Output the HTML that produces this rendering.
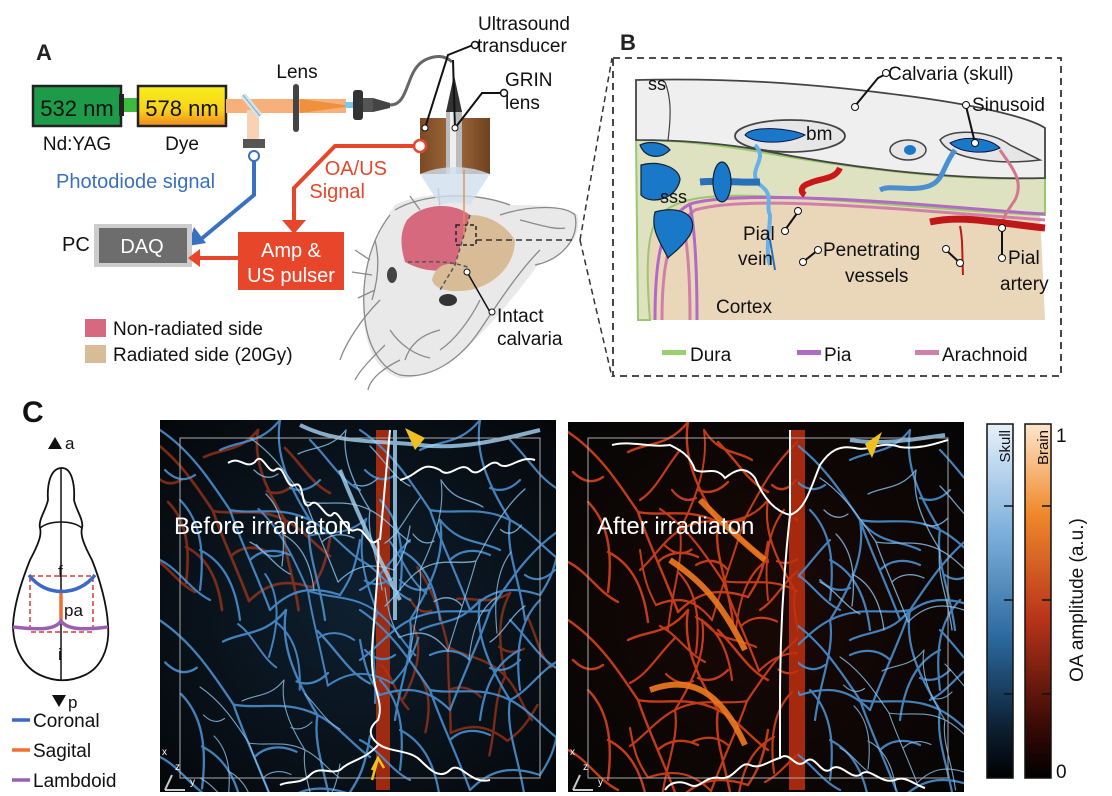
<!DOCTYPE html>
<html><head><meta charset="utf-8"><style>
html,body{margin:0;padding:0;background:#fff;}
svg{display:block;font-family:"Liberation Sans",Arial,sans-serif;}
</style></head><body>
<svg width="1112" height="796" viewBox="0 0 1112 796" xmlns="http://www.w3.org/2000/svg">
<defs>
<linearGradient id="dye" x1="0" y1="0" x2="0" y2="1"><stop offset="0" stop-color="#f7ef1a"/><stop offset="0.6" stop-color="#f8d21a"/><stop offset="1" stop-color="#f08a20"/></linearGradient>
<linearGradient id="brown" x1="0" y1="0" x2="1" y2="0"><stop offset="0" stop-color="#7a4a24"/><stop offset="0.5" stop-color="#a06a3c"/><stop offset="1" stop-color="#6e4120"/></linearGradient>
<linearGradient id="skull" x1="0" y1="0" x2="0" y2="1"><stop offset="0" stop-color="#e6f0fa"/><stop offset="0.3" stop-color="#7fb1dc"/><stop offset="0.6" stop-color="#2d6aa0"/><stop offset="0.85" stop-color="#0d2236"/><stop offset="1" stop-color="#000"/></linearGradient>
<linearGradient id="brain" x1="0" y1="0" x2="0" y2="1"><stop offset="0" stop-color="#fde6cc"/><stop offset="0.25" stop-color="#f08a2c"/><stop offset="0.55" stop-color="#b8341a"/><stop offset="0.85" stop-color="#3a0a06"/><stop offset="1" stop-color="#000"/></linearGradient>
<radialGradient id="dark1" cx="0.5" cy="0.5" r="0.7"><stop offset="0" stop-color="#0e2030"/><stop offset="1" stop-color="#05070a"/></radialGradient>
<radialGradient id="dark2" cx="0.5" cy="0.5" r="0.7"><stop offset="0" stop-color="#1a0805"/><stop offset="1" stop-color="#050505"/></radialGradient>
<clipPath id="c1"><rect x="160" y="420" width="396" height="372"/></clipPath>
<clipPath id="c2"><rect x="568" y="422" width="396" height="370"/></clipPath>
<clipPath id="c2l"><rect x="568" y="422" width="230" height="370"/></clipPath>
<clipPath id="c2r"><rect x="798" y="422" width="166" height="370"/></clipPath>
<g id="net" fill="none" stroke-linecap="round">
<path d="M0,10 C30,30 50,60 70,90 C80,120 95,150 110,190"/>
<path d="M70,90 C95,95 120,85 150,100 C170,110 185,130 200,140"/>
<path d="M20,80 C40,100 45,130 40,170 M40,130 C60,140 75,160 80,200"/>
<path d="M120,0 C115,30 125,60 150,100 M150,20 C170,40 180,60 200,70"/>
<path d="M0,140 C20,150 30,170 50,180 M110,190 C130,170 150,165 180,175"/>
<path d="M60,30 C80,20 100,25 120,0 M150,100 C145,130 160,160 165,200"/>
<path d="M90,140 C100,130 115,128 130,135 M180,175 C190,160 195,150 200,120"/>
<path d="M5,50 C15,60 25,62 35,55 M160,60 C150,70 140,72 130,68"/>
</g>
</defs>

<!-- ============ PANEL A ============ -->
<text x="36" y="60" font-size="22" font-weight="bold" fill="#222">A</text>
<rect x="33" y="86" width="88" height="40" fill="#1e9b48" stroke="#222" stroke-width="2.5"/>
<text x="77" y="116" font-size="22" text-anchor="middle" fill="#111">532 nm</text>
<rect x="121" y="98" width="17" height="14" fill="#3dbb3f"/>
<rect x="119" y="94" width="5" height="22" fill="#222"/>
<rect x="138" y="86" width="88" height="40" fill="url(#dye)" stroke="#222" stroke-width="2.5"/>
<text x="182" y="116" font-size="22" text-anchor="middle" fill="#111">578 nm</text>
<text x="77" y="150" font-size="19" text-anchor="middle" fill="#111">Nd:YAG</text>
<text x="182" y="150" font-size="19" text-anchor="middle" fill="#111">Dye</text>
<rect x="226" y="99" width="120" height="14" fill="#f7b07a"/>
<rect x="247" y="110" width="12" height="30" fill="#f9d2b4"/>
<polygon points="300,99 345,105 345,107 300,113" fill="#f0903a"/>
<line x1="243" y1="95" x2="260" y2="116" stroke="#cfe4f0" stroke-width="6"/>
<line x1="243" y1="95" x2="260" y2="116" stroke="#8aa" stroke-width="1"/>
<rect x="243" y="139" width="22" height="9" fill="#555"/>
<circle cx="254" cy="156" r="5" fill="#fff" stroke="#3a70c0" stroke-width="2"/>
<text x="297" y="78" font-size="19" text-anchor="middle" fill="#111">Lens</text>
<rect x="293" y="84" width="6" height="48" rx="3" fill="#444"/>
<rect x="345" y="102" width="8" height="6" fill="#7cc8e8"/>
<rect x="353" y="90" width="10" height="30" rx="3" fill="#333"/>
<rect x="363" y="98" width="10" height="14" fill="#555"/>
<polygon points="373,98 390,103 390,108 373,112" fill="#444"/>
<path d="M390,105 C410,105 405,70 425,60 C435,55 445,55 452,62" stroke="#666" stroke-width="3" fill="none"/>
<text x="478" y="30" font-size="19" fill="#111">Ultrasound</text>
<text x="477" y="52" font-size="19" fill="#111">transducer</text>
<text x="505" y="86" font-size="19" fill="#111">GRIN</text>
<text x="505" y="109" font-size="19" fill="#111">lens</text>
<!-- mouse (behind transducer) -->
<path d="M395,205 C420,192 470,190 510,205 C530,205 565,205 578,215 C582,240 560,260 540,262 C520,290 495,320 470,345 C450,365 420,380 400,378 C378,372 366,350 364,320 C360,280 370,240 395,205 Z" fill="#e9e9e9"/>
<g stroke="#8a8a8a" fill="none" stroke-width="1.3">
<path d="M390,215 C370,240 360,280 365,320 C368,345 380,368 400,375 C430,380 460,360 480,330 C500,300 520,270 540,250"/>
<path d="M500,215 C530,205 565,205 575,215 C580,240 560,260 535,265"/>
<path d="M395,210 C420,195 470,190 510,205"/>
<path d="M380,300 C360,320 345,345 340,360 M385,345 C370,360 360,370 355,380 M400,360 C380,370 370,380 368,390"/>
<path d="M440,330 C420,335 410,345 405,360 M375,240 C380,260 378,280 372,300 M480,300 C470,320 455,340 440,350 M520,220 C540,225 555,230 565,228 M390,330 C400,345 415,355 430,358"/>
<path d="M370,260 L355,250 M372,275 L352,272 M375,290 L358,298 M420,210 L410,196 M440,205 L438,188"/>
</g>
<ellipse cx="448" cy="300" rx="9" ry="6" fill="#333"/>
<ellipse cx="392" cy="275" rx="5" ry="8" fill="#444"/>
<path d="M407,220 C420,205 450,200 470,215 L455,265 C440,275 420,270 405,262 C400,245 400,232 407,220 Z" fill="#d7697f"/>
<path d="M470,215 C490,215 505,225 515,240 C515,265 495,285 470,290 C450,293 435,290 432,280 C435,265 448,262 455,265 Z" fill="#d8bc98"/>
<path d="M408,262 C430,262 450,260 470,268" stroke="#555" stroke-width="1.5" stroke-dasharray="4,3" fill="none"/>
<path d="M470,215 L455,265 L440,290" stroke="#555" stroke-width="1.5" stroke-dasharray="4,3" fill="none"/>
<rect x="456" y="225" width="20" height="20" stroke="#222" stroke-width="1.5" stroke-dasharray="4,3" fill="none"/>
<line x1="476" y1="240" x2="575" y2="240" stroke="#333" stroke-width="1.5" stroke-dasharray="6,4"/>
<!-- transducer -->
<rect x="420" y="118" width="70" height="56" fill="url(#brown)"/>
<rect x="446" y="110" width="16" height="64" fill="#bbb"/>
<rect x="450" y="110" width="6" height="64" fill="#eee"/>
<polygon points="446,112 454,75 462,112" fill="#333"/>
<path d="M420,174 Q455,160 490,174 L470,205 Q455,200 440,205 Z" fill="#cfe0ee" opacity="0.8"/>
<line x1="464" y1="170" x2="464" y2="235" stroke="#e09050" stroke-width="2" opacity="0.7"/>
<polyline points="425,128 448,55 473,45" stroke="#111" stroke-width="2" fill="none"/>
<polyline points="455,128 453,60" stroke="#111" stroke-width="2" fill="none"/>
<polyline points="455,128 482,93 504,93" stroke="#111" stroke-width="2" fill="none"/>
<circle cx="475" cy="45" r="3.5" fill="#fff" stroke="#111" stroke-width="1.5"/>
<circle cx="504" cy="93" r="3.5" fill="#fff" stroke="#111" stroke-width="1.5"/>
<circle cx="425" cy="128" r="3" fill="#fff" stroke="#111"/>
<circle cx="455" cy="128" r="3" fill="#fff" stroke="#111"/>
<polyline points="420,146 335,146 294,188 294,222" stroke="#e8462a" stroke-width="4" fill="none"/>
<polygon points="282,220 306,220 294,234" fill="#e8462a"/>
<circle cx="420" cy="146" r="6" fill="#fff" stroke="#e8462a" stroke-width="2.5"/>
<text x="387" y="175" font-size="20" text-anchor="end" fill="#e8462a">OA/US</text>
<text x="365" y="198" font-size="20" text-anchor="end" fill="#e8462a">Signal</text>
<text x="56" y="188" font-size="20" fill="#3a70c0">Photodiode signal</text>
<polyline points="254,161 254,195 200,240" stroke="#3a70c0" stroke-width="4" fill="none"/>
<polygon points="188,246 194,227 206,243" fill="#3a70c0"/>
<text x="62" y="251" font-size="20" fill="#111">PC</text>
<rect x="94" y="224" width="98" height="43" fill="#ccc"/>
<rect x="99" y="228" width="88" height="35" fill="#6d6d6d"/>
<text x="142" y="253" font-size="20" text-anchor="middle" fill="#fff">DAQ</text>
<rect x="238" y="232" width="106" height="58" fill="#e8462a"/>
<text x="291" y="257" font-size="20" text-anchor="middle" fill="#fff">Amp &amp;</text>
<text x="291" y="282" font-size="20" text-anchor="middle" fill="#fff">US pulser</text>
<line x1="238" y1="258" x2="200" y2="258" stroke="#e8462a" stroke-width="4"/>
<polygon points="188,258 200,249 200,267" fill="#e8462a"/>
<rect x="85" y="319" width="21" height="18" fill="#d7697f"/>
<rect x="85" y="345" width="21" height="18" fill="#d8bc98"/>
<text x="113" y="335" font-size="19" fill="#111">Non-radiated side</text>
<text x="113" y="361" font-size="19" fill="#111">Radiated side (20Gy)</text>
<polyline points="467,272 490,312 492,312" stroke="#111" stroke-width="1.5" fill="none"/>
<circle cx="467" cy="272" r="3" fill="#fff" stroke="#111"/>
<circle cx="492" cy="312" r="3" fill="#fff" stroke="#111"/>
<text x="497" y="322" font-size="19" fill="#111">Intact</text>
<text x="497" y="345" font-size="19" fill="#111">calvaria</text>
<path d="M580,240 L612,58" stroke="#333" stroke-width="1.5" stroke-dasharray="6,4"/>
<path d="M580,240 L612,377" stroke="#333" stroke-width="1.5" stroke-dasharray="6,4"/>

<!-- ============ PANEL B ============ -->
<text x="620" y="50" font-size="22" font-weight="bold" fill="#222">B</text>
<rect x="613" y="58" width="448" height="318" fill="none" stroke="#333" stroke-width="1.8" stroke-dasharray="7,5"/>
<path d="M638,250 C640,210 660,195 700,192 C780,188 900,202 1040,212 L1045,320 L640,320 Z" fill="#ead7ba"/>
<path d="M636,140 C680,140 720,145 760,152 C850,168 960,182 1045,178 L1045,215 C960,212 860,200 760,196 C700,194 675,200 660,215 C648,228 645,260 650,320 L638,320 L636,140 Z" fill="#dfe2c0" stroke="#9ac870" stroke-width="2"/>
<path d="M655,320 C655,260 660,220 690,204 C720,195 800,196 900,203 C970,208 1020,213 1045,214" stroke="#b06bc4" stroke-width="3" fill="none"/>
<path d="M662,320 C662,265 668,230 695,210 C730,200 800,202 900,209 C970,214 1020,218 1045,220" stroke="#d080a8" stroke-width="3" fill="none"/>
<path d="M697,320 C697,260 694,225 690,205" stroke="#b06bc4" stroke-width="3" fill="none"/>
<path d="M690,320 C690,265 686,230 680,210" stroke="#d080a8" stroke-width="3" fill="none"/>
<path d="M636,80 C720,78 800,82 900,95 C980,105 1030,118 1045,128 L1045,178 C960,180 860,170 760,150 C720,143 680,140 636,140 Z" fill="#efefef" stroke="#444" stroke-width="1.8"/>
<path d="M665,82 C670,95 672,110 668,140" stroke="#444" stroke-width="1.2" fill="none"/>
<ellipse cx="790" cy="136" rx="55" ry="16" fill="#e6e6e6" stroke="#444" stroke-width="1.8"/>
<ellipse cx="908" cy="150" rx="18" ry="10" fill="#e6e6e6" stroke="#444" stroke-width="1.5"/>
<path d="M940,140 C950,128 990,130 1010,145 L1040,160 C1000,165 950,160 940,140 Z" fill="#e6e6e6" stroke="#444" stroke-width="1.5"/>
<path d="M745,135 C752,125 790,128 805,135 C790,144 755,145 745,135 Z" fill="#1a78c8" stroke="#114" stroke-width="1"/>
<ellipse cx="910" cy="150" rx="6" ry="5" fill="#1a78c8"/>
<path d="M950,143 C965,135 990,138 1000,148 C985,155 960,153 950,143 Z" fill="#1a78c8" stroke="#114" stroke-width="1"/>
<path d="M755,145 C770,160 745,170 760,185 C775,195 765,205 770,215 C770,230 765,250 770,265" stroke="#6ab0e8" stroke-width="4" fill="none"/>
<path d="M955,150 C940,170 945,185 920,188 C900,190 890,185 880,190" stroke="#4a90d0" stroke-width="5" fill="none"/>
<path d="M700,182 C720,180 740,183 760,182" stroke="#2a70b8" stroke-width="7" fill="none"/>
<path d="M641,165 C660,160 680,168 680,180 C676,200 650,205 641,195 Z" fill="#1a78c8" stroke="#123" stroke-width="1.2"/>
<path d="M655,212 C680,205 700,215 690,235 C680,250 670,255 668,258 C662,245 650,230 655,212 Z" fill="#1a78c8" stroke="#123" stroke-width="1.2"/>
<path d="M640,145 C650,140 665,143 670,150 C660,160 645,158 640,145 Z" fill="#1a78c8" stroke="#123" stroke-width="1.2"/>
<ellipse cx="722" cy="182" rx="9" ry="20" fill="#1a78c8" stroke="#123" stroke-width="1.2"/>
<path d="M840,168 C835,180 820,178 810,183 C800,186 800,192 805,195" stroke="#c81818" stroke-width="6" fill="none"/>
<path d="M1000,150 C1010,165 1025,180 1015,200 C1005,215 1000,220 1005,230" stroke="#d07890" stroke-width="3" fill="none"/>
<path d="M930,222 C960,215 990,222 1045,228" stroke="#c01818" stroke-width="7" fill="none"/>
<path d="M960,226 C963,240 962,255 963,275" stroke="#c01818" stroke-width="2" fill="none"/>
<path d="M770,240 L775,270" stroke="#2a70b8" stroke-width="2" fill="none"/>
<text x="888" y="80" font-size="19" fill="#111">Calvaria (skull)</text>
<polyline points="855,106 878,78 886,74" stroke="#111" stroke-width="2" fill="none"/>
<circle cx="886" cy="73" r="3.5" fill="#fff" stroke="#111"/>
<circle cx="855" cy="107" r="3.5" fill="#fff" stroke="#111"/>
<text x="972" y="111" font-size="19" fill="#111">Sinusoid</text>
<line x1="966" y1="106" x2="975" y2="143" stroke="#111" stroke-width="2"/>
<circle cx="966" cy="105" r="3.5" fill="#fff" stroke="#111"/>
<circle cx="975" cy="143" r="3.5" fill="#fff" stroke="#111"/>
<text x="648" y="90" font-size="18" fill="#111">ss</text>
<text x="806" y="140" font-size="19" fill="#111">bm</text>
<text x="660" y="203" font-size="18" fill="#111">sss</text>
<text x="743" y="240" font-size="19" fill="#111">Pial</text>
<text x="738" y="265" font-size="19" fill="#111">vein</text>
<line x1="785" y1="230" x2="798" y2="212" stroke="#111" stroke-width="2"/>
<circle cx="785" cy="231" r="3.5" fill="#fff" stroke="#111"/>
<circle cx="798" cy="211" r="3.5" fill="#fff" stroke="#111"/>
<text x="823" y="256" font-size="19" fill="#111">Penetrating</text>
<text x="845" y="282" font-size="19" fill="#111">vessels</text>
<line x1="803" y1="262" x2="818" y2="250" stroke="#111" stroke-width="2"/>
<circle cx="803" cy="262" r="3.5" fill="#fff" stroke="#111"/>
<circle cx="818" cy="250" r="3.5" fill="#fff" stroke="#111"/>
<line x1="946" y1="250" x2="960" y2="263" stroke="#111" stroke-width="2"/>
<circle cx="946" cy="249" r="3.5" fill="#fff" stroke="#111"/>
<circle cx="960" cy="263" r="3.5" fill="#fff" stroke="#111"/>
<text x="1008" y="264" font-size="19" fill="#111">Pial</text>
<text x="1000" y="290" font-size="19" fill="#111">artery</text>
<line x1="1002" y1="229" x2="1002" y2="257" stroke="#111" stroke-width="2"/>
<circle cx="1002" cy="228" r="3.5" fill="#fff" stroke="#111"/>
<circle cx="1002" cy="258" r="3.5" fill="#fff" stroke="#111"/>
<text x="716" y="313" font-size="19" fill="#111">Cortex</text>
<rect x="662" y="350" width="24" height="5" fill="#9ad070"/>
<text x="690" y="361" font-size="19" fill="#111">Dura</text>
<rect x="797" y="350" width="24" height="5" fill="#b06bc4"/>
<text x="824" y="361" font-size="19" fill="#111">Pia</text>
<rect x="915" y="350" width="24" height="5" fill="#d080a8"/>
<text x="942" y="361" font-size="19" fill="#111">Arachnoid</text>

<!-- ============ PANEL C ============ -->
<text x="22" y="422" font-size="30" font-weight="bold" fill="#111">C</text>
<polygon points="48,449 55,437 62,449" fill="#111"/>
<text x="65" y="449" font-size="17" fill="#111">a</text>
<path d="M62,468 C50,468 47,485 48,500 C46,510 38,520 40,528 C42,535 38,545 30,560 C22,580 14,605 13,625 C13,650 25,668 40,675 C55,682 70,682 85,675 C100,668 110,650 108,625 C107,605 100,580 92,560 C84,545 80,535 82,528 C84,520 76,510 74,500 C75,485 72,468 62,468 Z" fill="#fff" stroke="#111" stroke-width="1.8"/>
<line x1="61" y1="468" x2="61" y2="680" stroke="#111" stroke-width="1.5"/>
<path d="M40,528 C50,520 72,520 82,528" stroke="#111" stroke-width="1.5" fill="none"/>
<text x="58" y="577" font-size="17" fill="#111">f</text>
<rect x="30" y="576" width="63" height="56" fill="none" stroke="#d83a3a" stroke-width="1.5" stroke-dasharray="5,3"/>
<path d="M29,575 C45,597 78,597 95,575" stroke="#3a6ac8" stroke-width="3.5" fill="none"/>
<line x1="61" y1="593" x2="61" y2="623" stroke="#f07030" stroke-width="3.5"/>
<path d="M13,627 C40,630 55,630 61,621 C67,630 85,630 108,627" stroke="#9a60b0" stroke-width="3.5" fill="none"/>
<text x="64" y="616" font-size="17" fill="#111">pa</text>
<text x="58" y="660" font-size="17" fill="#111">i</text>
<polygon points="52,695 59,707 66,695" fill="#111"/>
<text x="68" y="708" font-size="17" fill="#111">p</text>
<line x1="12" y1="720" x2="30" y2="720" stroke="#3a6ac8" stroke-width="3.5"/>
<text x="33" y="727" font-size="19" fill="#111">Coronal</text>
<line x1="12" y1="750" x2="30" y2="750" stroke="#f07030" stroke-width="3.5"/>
<text x="33" y="757" font-size="19" fill="#111">Sagital</text>
<line x1="12" y1="780" x2="30" y2="780" stroke="#9a60b0" stroke-width="3.5"/>
<text x="33" y="787" font-size="19" fill="#111">Lambdoid</text>

<!-- Before image -->
<rect x="160" y="420" width="396" height="372" fill="url(#dark1)"/>
<g clip-path="url(#c1)">
<g stroke="#c8401a" stroke-width="3" opacity="0.6">
<use href="#net" transform="translate(150,430) scale(0.9)"/>
<use href="#net" transform="translate(420,560) scale(0.8) rotate(20)"/>
</g>
<path d="M383,430 L383,790" stroke="#b83010" stroke-width="14" opacity="0.85"/>
<g stroke="#4a8fcf" stroke-width="2.2" opacity="0.9">
<use href="#net" transform="translate(160,420)"/>
<use href="#net" transform="translate(360,420) scale(1,1)"/>
<use href="#net" transform="translate(160,610) scale(1.05)"/>
<use href="#net" transform="translate(360,600)"/>
<use href="#net" transform="translate(260,500) rotate(10) scale(0.9)"/>
<use href="#net" transform="translate(560,520) scale(-1,1)"/>
</g>
<g stroke="#8cc4ee" stroke-width="1.6" opacity="0.8">
<use href="#net" transform="translate(250,430) scale(0.8)"/>
<use href="#net" transform="translate(420,480) scale(-0.7,0.9) translate(-150,0)"/>
<use href="#net" transform="translate(200,680) scale(0.7)"/>
</g>
<g stroke="#a8d6f6" stroke-width="4" opacity="0.8" fill="none">
<path d="M300,425 C340,445 380,440 420,445 C460,450 500,440 540,430"/>
<path d="M395,430 L395,620"/>
<path d="M340,470 C360,520 380,560 400,600"/>
</g>
</g>
<rect x="180" y="438" width="360" height="340" fill="none" stroke="#aaa" stroke-width="1"/>
<path d="M228,463 C240,455 245,470 255,462 C262,450 268,475 275,470 C285,462 285,490 295,485 C305,480 300,510 310,505 C318,495 325,520 332,515 C338,505 345,535 355,530 C365,525 368,550 378,540 C380,560 375,600 372,650 C370,690 385,700 378,720 C365,730 372,740 380,745 C390,752 410,750 420,760 C430,770 440,780 450,770 C460,760 470,785 490,780 M378,745 C365,760 350,760 340,770 C330,775 320,765 310,775 C300,785 290,780 280,785 M390,430 L380,540 M400,480 C420,475 420,460 440,470 C450,480 460,460 470,470 C480,480 490,455 500,465 C510,470 520,455 535,460" stroke="#fff" stroke-width="2" fill="none"/>
<polygon points="405,428 425,438 415,450" fill="#f0c020"/>
<path d="M372,770 L378,758 L384,768 M378,758 L372,780" stroke="#f0c020" stroke-width="2.5" fill="none"/>
<text x="174" y="534" font-size="24" fill="#fff">Before irradiaton</text>
<text x="162" y="755" font-size="10" fill="#fff">x</text><text x="175" y="770" font-size="10" fill="#fff">z</text><text x="190" y="785" font-size="10" fill="#fff">y</text>
<path d="M165,790 L172,775 M165,790 L185,790" stroke="#ccc" stroke-width="2"/>

<!-- After image -->
<rect x="568" y="422" width="396" height="370" fill="url(#dark2)"/>
<g clip-path="url(#c2l)">
<g stroke="#d8421a" stroke-width="2.4" opacity="0.9">
<use href="#net" transform="translate(568,422)"/>
<use href="#net" transform="translate(568,610)"/>
<use href="#net" transform="translate(660,500) scale(0.9)"/>
<use href="#net" transform="translate(800,430) scale(-0.8,1)"/>
<use href="#net" transform="translate(810,620) scale(-0.9,0.9)"/>
</g>
<g stroke="#f07a20" stroke-width="6" opacity="0.9" fill="none">
<path d="M670,560 C700,580 720,600 745,650"/>
<path d="M650,690 C690,675 720,690 745,745"/>
<path d="M700,500 C720,520 740,540 765,560"/>
</g>
</g>
<path d="M797,430 L797,790" stroke="#c03010" stroke-width="16" opacity="0.85"/>
<g clip-path="url(#c2r)">
<g stroke="#4a8fcf" stroke-width="2.2" opacity="0.9">
<use href="#net" transform="translate(790,430)"/>
<use href="#net" transform="translate(790,610)"/>
<use href="#net" transform="translate(980,520) scale(-1,1)"/>
</g>
<g stroke="#8cc4ee" stroke-width="1.6" opacity="0.8">
<use href="#net" transform="translate(820,470) scale(0.8)"/>
<use href="#net" transform="translate(840,650) scale(0.7)"/>
</g>
<path d="M850,440 C880,445 910,440 945,435" stroke="#9cd0f4" stroke-width="4" opacity="0.8" fill="none"/>
</g>
<rect x="588" y="438" width="360" height="340" fill="none" stroke="#aaa" stroke-width="1"/>
<path d="M612,445 C630,440 650,448 670,445 C680,450 690,455 695,470 C705,475 715,465 725,478 C735,470 745,465 755,478 C760,490 770,510 790,515 C805,510 810,490 820,465 C830,450 840,445 855,448 C870,452 880,440 900,447 C920,450 940,442 948,440 M790,430 L790,515 C785,560 780,620 780,700 L780,758 C770,760 760,770 750,765 C740,760 735,780 720,778 C705,775 700,790 690,785 C680,780 670,782 665,790 M780,758 C790,750 795,770 805,762 C815,752 820,775 830,770 C840,760 850,780 860,775 C870,765 880,785 895,780 C905,775 915,785 925,788" stroke="#fff" stroke-width="2" fill="none"/>
<polygon points="865,444 882,432 872,458" fill="#f0c020"/>
<text x="597" y="534" font-size="24" fill="#fff">After irradiaton</text>
<text x="570" y="755" font-size="10" fill="#fff">x</text><text x="583" y="770" font-size="10" fill="#fff">z</text><text x="598" y="785" font-size="10" fill="#fff">y</text>
<path d="M573,790 L580,775 M573,790 L593,790" stroke="#ccc" stroke-width="2"/>

<!-- colorbars -->
<rect x="987" y="424" width="26" height="354" fill="url(#skull)" stroke="#111" stroke-width="1.5"/>
<rect x="1025" y="424" width="26" height="354" fill="url(#brain)" stroke="#111" stroke-width="1.5"/>
<g stroke="#111" stroke-width="1.5">
<line x1="1004" y1="506" x2="1013" y2="506"/><line x1="1004" y1="600" x2="1013" y2="600"/><line x1="1004" y1="694" x2="1013" y2="694"/>
<line x1="1042" y1="506" x2="1051" y2="506"/><line x1="1042" y1="600" x2="1051" y2="600"/><line x1="1042" y1="694" x2="1051" y2="694"/>
</g>
<text transform="translate(1010,430) rotate(-90)" font-size="15" text-anchor="end" fill="#111">Skull</text>
<text transform="translate(1048,430) rotate(-90)" font-size="15" text-anchor="end" fill="#111">Brain</text>
<text x="1056" y="442" font-size="19" fill="#111">1</text>
<text x="1056" y="778" font-size="19" fill="#111">0</text>
<text transform="translate(1083,600) rotate(-90)" font-size="19" text-anchor="middle" fill="#111">OA amplitude (a.u.)</text>
</svg>
</body></html>
